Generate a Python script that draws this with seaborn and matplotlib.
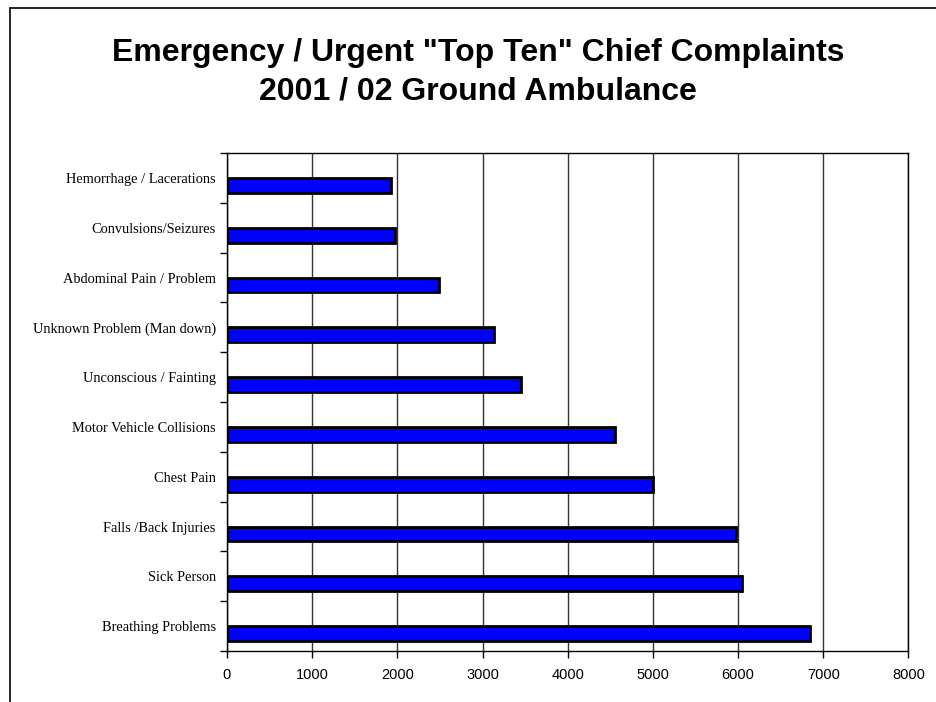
# Emergency / Urgent top ten chief complaints - horizontal bar chart
import numpy as np
import pandas as pd
import matplotlib
matplotlib.use('Agg')
import matplotlib.pyplot as plt
from matplotlib.lines import Line2D
import seaborn as sns

# data (top to bottom)
complaints = [
    'Hemorrhage / Lacerations',
    'Convulsions/Seizures',
    'Abdominal Pain / Problem',
    'Unknown Problem (Man down)',
    'Unconscious / Fainting',
    'Motor Vehicle Collisions',
    'Chest Pain',
    'Falls /Back Injuries',
    'Sick Person',
    'Breathing Problems',
]
calls = [1920, 1970, 2490, 3130, 3450, 4550, 5000, 5975, 6040, 6840]
x_ticks = [0, 1000, 2000, 3000, 4000, 5000, 6000, 7000, 8000]

df = pd.DataFrame({'complaint': complaints, 'calls': calls, 'series': 'calls'})

sns.set_style('white')
plt.rcParams['font.family'] = ['Liberation Sans', 'DejaVu Sans']
plt.rcParams['text.color'] = 'black'
plt.rcParams['xtick.color'] = 'black'
plt.rcParams['ytick.color'] = 'black'

fig = plt.figure(figsize=(9.36, 7.02), dpi=100)
ax = fig.add_axes([0.2425, 0.0726, 0.7281, 0.7094])

# Excel-style clustered bar: an empty first series pushes bars below centre
sns.barplot(data=df, x='calls', y='complaint', hue='series',
            hue_order=['_empty', 'calls'], order=complaints,
            palette={'_empty': '#0000FF', 'calls': '#0000FF'}, saturation=1,
            width=0.6, dodge=True, edgecolor='black', linewidth=2,
            legend=False, ax=ax, zorder=3)

ax.set_xlim(0, 8000)
ax.set_ylim(len(complaints) - 0.5, -0.5)
ax.set_xticks(x_ticks)
ax.set_xticklabels([str(v) for v in x_ticks], fontsize=10.5)
ax.tick_params(axis='x', bottom=True, direction='out', length=5, width=1, color='black', pad=7)
ax.xaxis.grid(True, color='#333333', linewidth=1, zorder=0)
ax.set_axisbelow(True)

# y ticks sit between categories, labels at the centres
ax.set_yticks(np.arange(-0.5, len(complaints), 1))
ax.set_yticklabels([])
ax.set_yticks(np.arange(len(complaints)), minor=True)
ax.set_yticklabels(complaints, minor=True, fontsize=10.4, family='Liberation Serif')
ax.tick_params(axis='y', which='major', left=True, direction='out', length=5, width=1, color='black')
ax.tick_params(axis='y', which='minor', left=True, length=0, pad=8)

ax.set_xlabel('')
ax.set_ylabel('')
for s in ax.spines.values():
    s.set_visible(True)
    s.set_color('black')
    s.set_linewidth(1)

fig.text(0.511, 0.897, 'Emergency / Urgent "Top Ten" Chief Complaints\n2001 / 02 Ground Ambulance',
         ha='center', va='center', fontsize=23, fontweight='bold', linespacing=1.4,
         color='black')

# slide frame (left and top edges)
fig.add_artist(Line2D([0.0105, 0.0105], [0.0, 0.9886], color='black', lw=1.2, transform=fig.transFigure))
fig.add_artist(Line2D([0.0105, 1.0], [0.9886, 0.9886], color='black', lw=1.2, transform=fig.transFigure))

plt.savefig('out.png', dpi=100)
